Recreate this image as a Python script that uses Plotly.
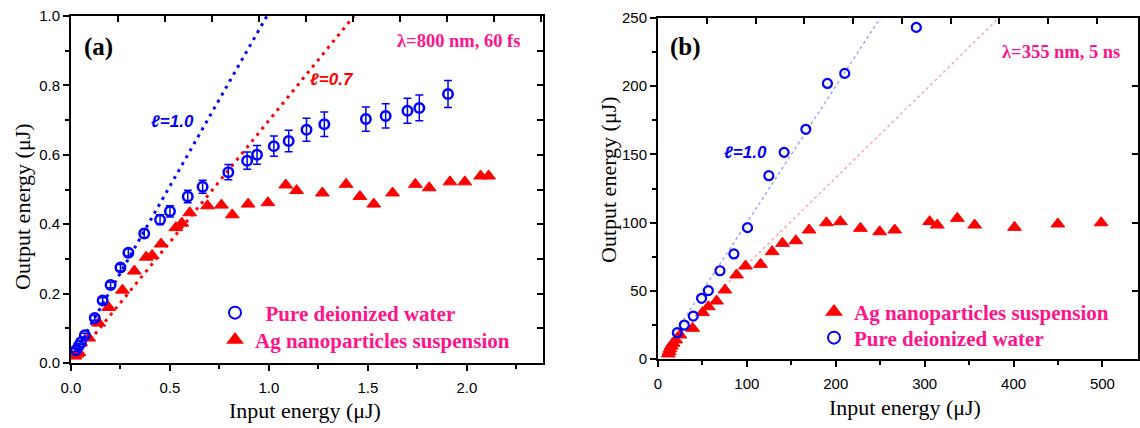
import plotly.graph_objects as go

# ---------------- Panel (a): 800 nm, 60 fs ----------------
a_water_x = [0.025, 0.04, 0.05, 0.07, 0.12, 0.16, 0.20, 0.25, 0.29, 0.37, 0.45, 0.50,
             0.59, 0.665, 0.795, 0.89, 0.94, 1.025, 1.10, 1.19, 1.28, 1.49, 1.59, 1.70, 1.76, 1.905]
a_water_y = [0.037, 0.05, 0.06, 0.08, 0.13, 0.18, 0.225, 0.275, 0.318, 0.373, 0.413, 0.437,
             0.48, 0.508, 0.55, 0.583, 0.60, 0.625, 0.64, 0.672, 0.688, 0.703, 0.712, 0.727, 0.735, 0.775]
a_water_err = [0.004, 0.004, 0.005, 0.006, 0.007, 0.008, 0.008, 0.009, 0.01, 0.012, 0.014, 0.016,
               0.018, 0.019, 0.022, 0.025, 0.027, 0.029, 0.031, 0.033, 0.035, 0.035, 0.035, 0.036, 0.037, 0.039]

a_ag_x = [0.02, 0.03, 0.04, 0.09, 0.14, 0.19, 0.26, 0.32, 0.38, 0.41, 0.455, 0.53, 0.56, 0.60,
          0.69, 0.76, 0.815, 0.895, 0.995, 1.085, 1.14, 1.27, 1.39, 1.46, 1.53, 1.625, 1.74,
          1.81, 1.915, 1.99, 2.07, 2.11]
a_ag_y = [0.02, 0.026, 0.03, 0.072, 0.115, 0.16, 0.21, 0.265, 0.305, 0.31, 0.343, 0.39, 0.403, 0.433,
          0.453, 0.455, 0.427, 0.458, 0.462, 0.513, 0.497, 0.49, 0.515, 0.48, 0.458, 0.49, 0.515,
          0.505, 0.522, 0.522, 0.539, 0.539]

a_fit1_x = [0.02, 0.99]   # l = 1.0
a_fit1_y = [0.03, 1.0]
a_fit2_x = [0.045, 1.43]  # l = 0.7
a_fit2_y = [0.03, 1.0]

# ---------------- Panel (b): 355 nm, 5 ns ----------------
b_water_x = [21.7, 29.6, 39.7, 49.0, 56.6, 69.7, 85.4, 100.7, 124.7, 141.9, 166.3, 190.6, 210.1, 290.6]
b_water_y = [19.3, 24.9, 31.5, 44.5, 50.1, 64.7, 77.0, 96.3, 134.4, 151.5, 168.4, 202.0, 209.4, 243.1]

b_ag_x = [11.6, 12.5, 13.5, 15.0, 17.0, 20.0, 24.7, 39.0, 50.2, 56.6, 65.9, 75.3, 88.4, 98.5,
          115.4, 128.5, 140.1, 155.1, 170.0, 189.5, 205.2, 227.7, 249.4, 266.3, 305.6, 314.2,
          336.7, 356.2, 401.1, 449.8, 498.5]
b_ag_y = [3.7, 5.5, 7.5, 9.5, 11.5, 14.0, 17.6, 22.5, 34.0, 38.3, 42.5, 50.6, 61.6, 68.2,
          69.4, 78.7, 84.8, 86.7, 94.6, 99.9, 100.7, 95.8, 93.3, 94.6, 100.7, 98.2,
          103.1, 98.2, 96.5, 99.0, 99.9]

b_fit1_x = [10, 250]
b_fit1_y = [10, 250]
b_fit2_x = [70, 382]
b_fit2_y = [50, 249]

BLUE = "#0000FF"
RED = "#FF0000"
PINK = "#FF148C"
SERIF = "Liberation Serif"
SANS = "Liberation Sans"

W, H = 1140, 428
def px_x(p):
    return p / W
def px_y(p):
    return (H - p) / H

fig = go.Figure()

# ----- panel (a) traces -----
fig.add_trace(go.Scatter(x=a_fit1_x, y=a_fit1_y, mode="lines", xaxis="x", yaxis="y",
                         line=dict(color=BLUE, width=3, dash="3px,5px"), showlegend=False, hoverinfo="skip"))
fig.add_trace(go.Scatter(x=a_fit2_x, y=a_fit2_y, mode="lines", xaxis="x", yaxis="y",
                         line=dict(color=RED, width=3, dash="3px,5px"), showlegend=False, hoverinfo="skip"))
fig.add_trace(go.Scatter(x=a_ag_x, y=a_ag_y, mode="markers", xaxis="x", yaxis="y",
                         name="<b>Ag nanoparticles suspension</b>", legend="legend3",
                         marker=dict(symbol="triangle-up", size=12, color=RED,
                                     line=dict(color=RED, width=1))))
fig.add_trace(go.Scatter(x=a_water_x, y=a_water_y, mode="markers", xaxis="x", yaxis="y",
                         name="<b>  Pure deionized water</b>", legend="legend",
                         error_y=dict(type="data", array=a_water_err, color=BLUE, thickness=1.5, width=4),
                         marker=dict(symbol="circle-open", size=9.5, color=BLUE,
                                     line=dict(color=BLUE, width=2.5))))

# ----- panel (b) traces -----
fig.add_trace(go.Scatter(x=b_fit1_x, y=b_fit1_y, mode="lines", xaxis="x2", yaxis="y2",
                         line=dict(color="rgba(90,90,255,0.55)", width=1.5, dash="dot"),
                         showlegend=False, hoverinfo="skip"))
fig.add_trace(go.Scatter(x=b_fit2_x, y=b_fit2_y, mode="lines", xaxis="x2", yaxis="y2",
                         line=dict(color="rgba(255,110,110,0.6)", width=1.5, dash="dot"),
                         showlegend=False, hoverinfo="skip"))
fig.add_trace(go.Scatter(x=b_ag_x, y=b_ag_y, mode="markers", xaxis="x2", yaxis="y2",
                         name="<b>Ag nanoparticles suspension</b>", legend="legend2",
                         marker=dict(symbol="triangle-up", size=12, color=RED,
                                     line=dict(color=RED, width=1))))
fig.add_trace(go.Scatter(x=b_water_x, y=b_water_y, mode="markers", xaxis="x2", yaxis="y2",
                         name="<b>Pure deionized water</b>", legend="legend4",
                         marker=dict(symbol="circle-open", size=9, color=BLUE,
                                     line=dict(color=BLUE, width=2.2))))

# dummy traces so the mirror-tick overlay axes are rendered
fig.add_trace(go.Scatter(x=[None], y=[None], xaxis="x3", yaxis="y3", showlegend=False, hoverinfo="skip"))
fig.add_trace(go.Scatter(x=[None], y=[None], xaxis="x4", yaxis="y4", showlegend=False, hoverinfo="skip"))

# domains (pixels -> paper)
ax_dom = [px_x(71), px_x(543)]
ay_dom = [px_y(363), px_y(16)]
bx_dom = [px_x(658), px_x(1138)]
by_dom = [px_y(359), px_y(18)]

tickfont = dict(family=SANS, size=15, color="black")
common = dict(showline=True, linecolor="black", linewidth=2, mirror=True, ticks="outside",
              ticklen=6, tickwidth=1.5, tickcolor="black", tickfont=tickfont, showgrid=False,
              zeroline=False, fixedrange=True, automargin=False)
mirror_common = dict(ticks="inside", ticklen=6, tickwidth=1.5, tickcolor="black", showticklabels=False,
                     showline=False, showgrid=False, zeroline=False, fixedrange=True, automargin=False)
minor_style = dict(ticks="outside", ticklen=4, tickwidth=1.5, tickcolor="black")

def legend_at(xp, yp):
    return dict(x=px_x(xp), y=px_y(yp), xanchor="left", yanchor="middle",
                font=dict(family=SERIF, size=21, color=PINK), bgcolor="rgba(0,0,0,0)",
                borderwidth=0, itemsizing="constant")

fig.update_layout(
    width=W, height=H, margin=dict(l=0, r=0, t=0, b=0, autoexpand=False),
    paper_bgcolor="white", plot_bgcolor="white",
    xaxis=dict(domain=ax_dom, anchor="y", range=[0, 2.385], dtick=0.5, tick0=0, tickformat=".1f",
               minor=dict(dtick=0.25, **minor_style), ticklabelstandoff=4, **common),
    yaxis=dict(domain=ay_dom, anchor="x", range=[0, 1.0], dtick=0.2, tick0=0, tickformat=".1f",
               minor=dict(dtick=0.1, **minor_style), **common),
    xaxis2=dict(domain=bx_dom, anchor="y2", range=[0, 540], dtick=100, tick0=0,
                minor=dict(dtick=50, **minor_style), ticklabelstandoff=4, **common),
    yaxis2=dict(domain=by_dom, anchor="x2", range=[0, 250], dtick=50, tick0=0,
                minor=dict(dtick=25, **minor_style), **common),
    # inward mirror ticks (top / right)
    xaxis3=dict(overlaying="x", anchor="y", side="top", range=[0, 10.04], dtick=1, tick0=0, **mirror_common),
    yaxis3=dict(overlaying="y", anchor="x", side="right", range=[0, 1.0], dtick=0.1, tick0=0, **mirror_common),
    xaxis4=dict(overlaying="x2", anchor="y2", side="top", range=[0, 9.84], dtick=1, tick0=0, **mirror_common),
    yaxis4=dict(overlaying="y2", anchor="x2", side="right", range=[0, 250], dtick=50, tick0=0, **mirror_common),
    legend=legend_at(215, 313),
    legend3=legend_at(215, 340),
    legend2=legend_at(814, 312),
    legend4=legend_at(814, 338),
    showlegend=True,
)

ann = []
title_font = dict(family=SERIF, size=22, color="black")
def note(text, x, y, font, xref="paper", yref="paper", **kw):
    return dict(text=text, x=x, y=y, xref=xref, yref=yref, showarrow=False, font=font,
                xanchor="center", yanchor="middle", **kw)

# axis titles
ann.append(note("Input energy (μJ)", px_x(305), px_y(410), title_font))
ann.append(note("Input energy (μJ)", px_x(905), px_y(407), title_font))
ann.append(note("Output energy (μJ)", px_x(22), px_y(207), title_font, textangle=-90))
ann.append(note("Output energy (μJ)", px_x(608), px_y(180), title_font, textangle=-90))
# panel labels
ann.append(note("<b>(a)</b>", px_x(98), px_y(47), dict(family=SERIF, size=25, color="black")))
ann.append(note("<b>(b)</b>", px_x(685), px_y(47), dict(family=SERIF, size=25, color="black")))
# conditions
ann.append(note("<b>λ=800 nm, 60 fs</b>", px_x(459), px_y(41), dict(family=SERIF, size=18.5, color=PINK)))
ann.append(note("<b>λ=355 nm, 5 ns</b>", px_x(1061), px_y(52), dict(family=SERIF, size=18.5, color=PINK)))
# slope labels
ann.append(note("<b><i>ℓ=1.0</i></b>", 0.513, 0.695, dict(family=SANS, size=17, color=BLUE), xref="x", yref="y"))
ann.append(note("<b><i>ℓ=0.7</i></b>", 1.318, 0.816, dict(family=SANS, size=17, color=RED), xref="x", yref="y"))
ann.append(note("<b><i>ℓ=1.0</i></b>", 98.9, 151.7, dict(family=SANS, size=17, color=BLUE), xref="x2", yref="y2"))
fig.update_layout(annotations=ann)

fig.write_html("out.html")
